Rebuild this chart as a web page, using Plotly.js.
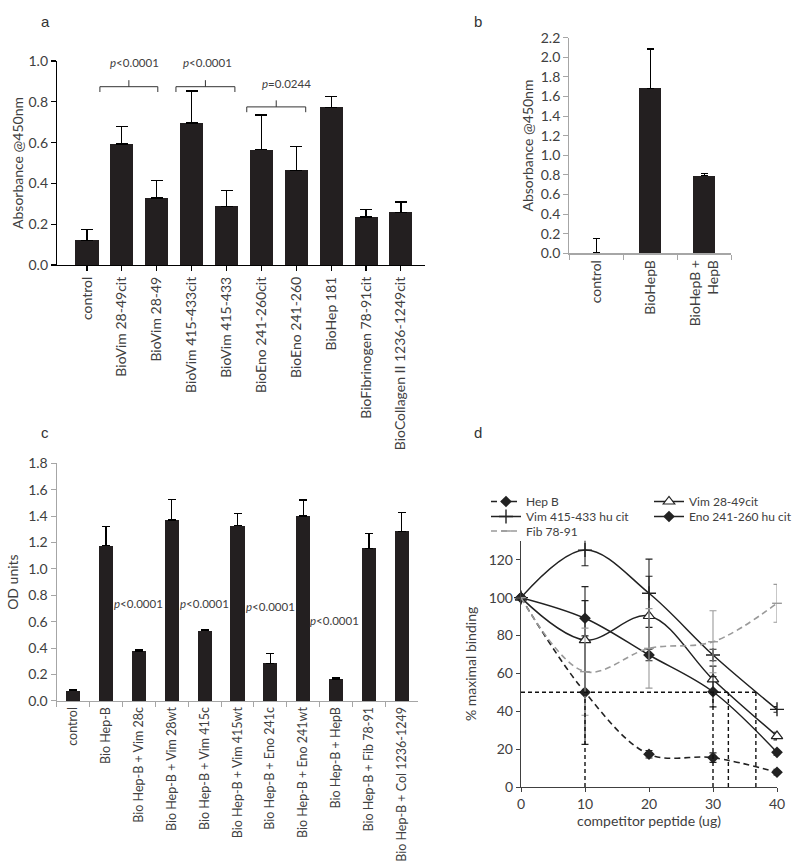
<!DOCTYPE html>
<html><head><meta charset="utf-8">
<script src="https://cdn.plot.ly/plotly-3.0.1.min.js"></script>
<style>html,body{margin:0;padding:0;background:#fff}#chart{width:800px;height:867px}</style>
</head><body><div id="chart"></div>
<script>
// ---------- DATA ----------
// panel a
const catsA = ['control','BioVim 28-49cit','BioVim 28-49','BioVim 415-433cit','BioVim 415-433','BioEno 241-260cit','BioEno 241-260','BioHep 181','BioFibrinogen 78-91cit','BioCollagen II 1236-1249cit'];
const valsA = [0.121,0.593,0.328,0.696,0.288,0.565,0.464,0.773,0.235,0.258];
const errA  = [0.054,0.085,0.087,0.157,0.078,0.170,0.116,0.054,0.038,0.051];
const pTextA = ['p<0.0001','p<0.0001','p=0.0244'];
// panel b
const catsB = ['control','BioHepB','BioHepB +<br>HepB'];
const valsB = [0.005,1.684,0.79];
const errB  = [0.145,0.40,0.025];
// panel c
const catsC = ['control','Bio Hep-B','Bio Hep-B + Vim 28c','Bio Hep-B + Vim 28wt','Bio Hep-B + Vim 415c','Bio Hep-B + Vim 415wt','Bio Hep-B + Eno 241c','Bio Hep-B + Eno 241wt','Bio Hep-B + HepB','Bio Hep-B + Fib 78-91','Bio Hep-B + Col 1236-1249'];
const valsC = [0.078,1.176,0.378,1.370,0.533,1.327,0.285,1.401,0.166,1.156,1.285];
const errC  = [0.006,0.147,0.012,0.154,0.010,0.091,0.073,0.121,0.013,0.111,0.144];
const pTextC = ['p<0.0001','p<0.0001','p<0.0001','p<0.0001'];
// panel d
const dose = [0,10,20,30,40];
const hepB = [100,50,17.3,15.5,7.8];     const hepBErr = [0,27.5,2,2.5,1.5];
const vim28 = [100,77.6,90.3,56.8,26.9]; const vim28Err = [0,28.2,21,7,2];
const vim415 = [100,125.1,102.3,69.7,41];const vim415Err = [0,8.3,18,3,1.5];
const eno = [100,89.1,69.7,50.3,18.3];   const enoErr = [0,9.3,3,8,1.5];
const fib = [100,60.9,73.2,76.7,97];     const fibErr = [0,23,21,16.4,10];
const halfLevel = 50;
const ic50 = [10,30,32.4,36.7];

// ---------- STYLE / LAYOUT ----------
const W = 800, H = 867;
const FONT = 'Lato, "Open Sans", sans-serif';
const TXT = '#404040';
const BAR = '#231f20';
const DK = '#222';
const GR = '#9a9a9a';
const fx = p => p / W, fy = p => 1 - p / H;
const zeros = n => new Array(n).fill(0);
const tf = s => ({family: FONT, size: s, color: TXT});

const traces = [];
traces.push({type:'bar', x:catsA, y:valsA, xaxis:'x', yaxis:'y', width:0.66,
  marker:{color:BAR}, showlegend:false, hoverinfo:'skip',
  error_y:{type:'data', symmetric:false, array:errA, arrayminus:zeros(errA.length), color:'#000', thickness:1.2, width:6}});
traces.push({type:'bar', x:catsB, y:valsB, xaxis:'x2', yaxis:'y2', width:0.41,
  marker:{color:BAR}, showlegend:false, hoverinfo:'skip',
  error_y:{type:'data', symmetric:false, array:errB, arrayminus:zeros(errB.length), color:'#000', thickness:1.2, width:3.5}});
traces.push({type:'bar', x:catsC, y:valsC, xaxis:'x3', yaxis:'y3', width:0.43,
  marker:{color:BAR}, showlegend:false, hoverinfo:'skip',
  error_y:{type:'data', symmetric:false, array:errC, arrayminus:zeros(errC.length), color:'#000', thickness:1.2, width:4}});

function line(name, y, err, opts, legend){
  return Object.assign({type:'scatter', mode:'lines+markers', name:name, x:dose, y:y,
    xaxis:'x4', yaxis:'y4', cliponaxis:false, legend:legend, hoverinfo:'skip',
    error_y:{type:'data', array:err, color:opts.ec || DK, thickness:1.1, width:3.5}}, opts.t);
}
traces.push(line('Hep B', hepB, hepBErr, {t:{line:{color:DK,width:1.6,dash:'6px,4px',shape:'spline',smoothing:1},
  marker:{symbol:'diamond',size:9,color:DK}}}, 'legend'));
traces.push(line('Vim 28-49cit', vim28, vim28Err, {t:{line:{color:DK,width:1.5,shape:'spline',smoothing:1},
  marker:{symbol:'triangle-up',size:10,color:'#fff',line:{color:DK,width:1.2}}}}, 'legend'));
traces.push(line('Vim 415-433 hu cit', vim415, vim415Err, {t:{line:{color:DK,width:1.5,shape:'spline',smoothing:1},
  marker:{symbol:'cross-thin-open',size:10,color:DK,line:{color:DK,width:1.4}}}}, 'legend2'));
traces.push(line('Eno 241-260 hu cit', eno, enoErr, {t:{line:{color:DK,width:1.5,shape:'spline',smoothing:1},
  marker:{symbol:'diamond',size:9,color:DK}}}, 'legend2'));
traces.push(line('Fib 78-91', fib, fibErr, {ec:GR, t:{line:{color:GR,width:1.6,dash:'6px,4px',shape:'spline',smoothing:1},
  marker:{symbol:'line-ew-open',size:7,color:GR,line:{color:GR,width:1.4}}}}, 'legend3'));

const catAxis = (dom, anchor, range, lc, extra) => Object.assign({domain:dom, anchor:anchor, type:'category', range:range,
  showline:true, linecolor:lc, linewidth:1.2, ticks:'outside', ticklen:5, tickcolor:lc, tickwidth:1.1,
  tickangle:-90, tickfont:tf(14), showgrid:false, zeroline:false, fixedrange:true}, extra||{});
const valAxis = (dom, anchor, range, dtick, lc, title, standoff, extra) => Object.assign({domain:dom, anchor:anchor, range:range,
  dtick:dtick, tick0:0, showline:true, linecolor:lc, linewidth:1.2, ticks:'outside', ticklen:5, tickcolor:lc, tickwidth:1.1,
  tickfont:tf(14), showgrid:false, zeroline:false, fixedrange:true,
  title:{text:title, font:tf(14), standoff:standoff}}, extra||{});

const shapes = [];
// panel a comparison brackets (x in category units, y in data units)
const brA = [{x0:0.37,x1:2.03,y:0.874},{x0:2.55,x1:4.24,y:0.874},{x0:4.58,x1:6.27,y:0.775}];
const leg = 0.026, tick = 0.032;
const ln = (xr,yr,x0,y0,x1,y1,extra) => Object.assign({type:'line', xref:xr, yref:yr, x0:x0, y0:y0, x1:x1, y1:y1, line:{color:'#333', width:1}}, extra||{});
brA.forEach(b => {
  shapes.push(ln('x','y',b.x0,b.y,b.x1,b.y));
  shapes.push(ln('x','y',b.x0,b.y,b.x0,b.y-leg));
  shapes.push(ln('x','y',b.x1,b.y,b.x1,b.y-leg));
  const m = (b.x0+b.x1)/2;
  shapes.push(ln('x','y',m,b.y,m,b.y+tick));
});
// panel d 50% guide lines
const dash = {color:'#111', width:1.4, dash:'4px,3px'};
shapes.push(ln('x4','y4',0,halfLevel,Math.max(...ic50),halfLevel,{line:dash}));
ic50.forEach(v => shapes.push(ln('x4','y4',v,0,v,halfLevel,{line:dash})));

const annotations = [];
const pPosA = [{x:1.35,y:0.995},{x:3.45,y:0.995},{x:5.72,y:0.892}];
pTextA.forEach((t,i) => annotations.push({xref:'x', yref:'y', x:pPosA[i].x, y:pPosA[i].y, showarrow:false,
  text:'<i>'+t[0]+'</i>'+t.slice(1).replace('<','&lt;'), font:tf(11.5)}));
const pPosC = [{x:2,y:0.74},{x:4,y:0.74},{x:6,y:0.714},{x:7.95,y:0.607}];
pTextC.forEach((t,i) => annotations.push({xref:'x3', yref:'y3', x:pPosC[i].x, y:pPosC[i].y, showarrow:false,
  text:'<i>'+t[0]+'</i>'+t.slice(1).replace('<','&lt;'), font:tf(11.5)}));
[['a',39,11],['b',478,11],['c',39,432],['d',478,432]].forEach(l => annotations.push({xref:'paper', yref:'paper',
  x:fx(l[1]), y:fy(l[2]), text:l[0], showarrow:false, font:{family:'Liberation Sans, Arial, sans-serif', size:15, color:'#333'}}));

const legendBase = {orientation:'h', xanchor:'left', yanchor:'top', font:tf(12), bgcolor:'rgba(0,0,0,0)',
  itemwidth:30, entrywidth:118, entrywidthmode:'pixels', x:fx(486)};

const layout = {
  width:W, height:H, margin:{l:0,r:0,t:0,b:0,autoexpand:false}, paper_bgcolor:'#fff', plot_bgcolor:'rgba(0,0,0,0)',
  font:{family:FONT, color:TXT}, bargap:0, showlegend:true,
  xaxis: catAxis([fx(57),fx(425)], 'y', [-0.86,9.69], '#000'),
  yaxis: valAxis([fy(265),fy(61)], 'x', [0,1.0], 0.2, '#000', 'Absorbance @450nm', 1, {tickformat:'.1f'}),
  xaxis2: catAxis([fx(569.3),fx(731.3)], 'y2', [-0.5,2.5], '#a6a6a6', {tickson:'boundaries'}),
  yaxis2: valAxis([fy(253.3),fy(37.7)], 'x2', [0,2.2], 0.2, '#a6a6a6', 'Absorbance @450nm', 3, {tickformat:'.1f'}),
  xaxis3: catAxis([fx(56.7),fx(418.3)], 'y3', [-0.5,10.5], '#a6a6a6', {tickson:'boundaries', tickfont:tf(12.5)}),
  yaxis3: valAxis([fy(700.9),fy(463.3)], 'x3', [0,1.8], 0.2, '#a6a6a6', 'OD units', 6, {tickformat:'.1f'}),
  xaxis4: {domain:[fx(521),fx(777)], anchor:'y4', range:[0,40], dtick:10, tick0:0, showline:true, linecolor:'#404040',
    linewidth:1.2, ticks:'outside', ticklen:4, tickcolor:'#404040', tickfont:tf(14), showgrid:false, zeroline:false,
    fixedrange:true, title:{text:'competitor peptide (ug)', font:tf(14), standoff:4}},
  yaxis4: {domain:[fy(787),fy(540.8)], anchor:'x4', range:[0,130], tickvals:[0,20,40,60,80,100,120], showline:true,
    linecolor:'#404040', linewidth:1.2, ticks:'outside', ticklen:4, tickcolor:'#404040', tickfont:tf(14), showgrid:false,
    zeroline:false, fixedrange:true, title:{text:'% maximal binding', font:tf(14), standoff:8}},
  legend: Object.assign({y:fy(487)}, legendBase),
  legend2: Object.assign({y:fy(502)}, legendBase),
  legend3: Object.assign({y:fy(516.5)}, legendBase),
  shapes: shapes, annotations: annotations
};
Plotly.newPlot('chart', traces, layout, {displayModeBar:false, staticPlot:true});
</script></body></html>
